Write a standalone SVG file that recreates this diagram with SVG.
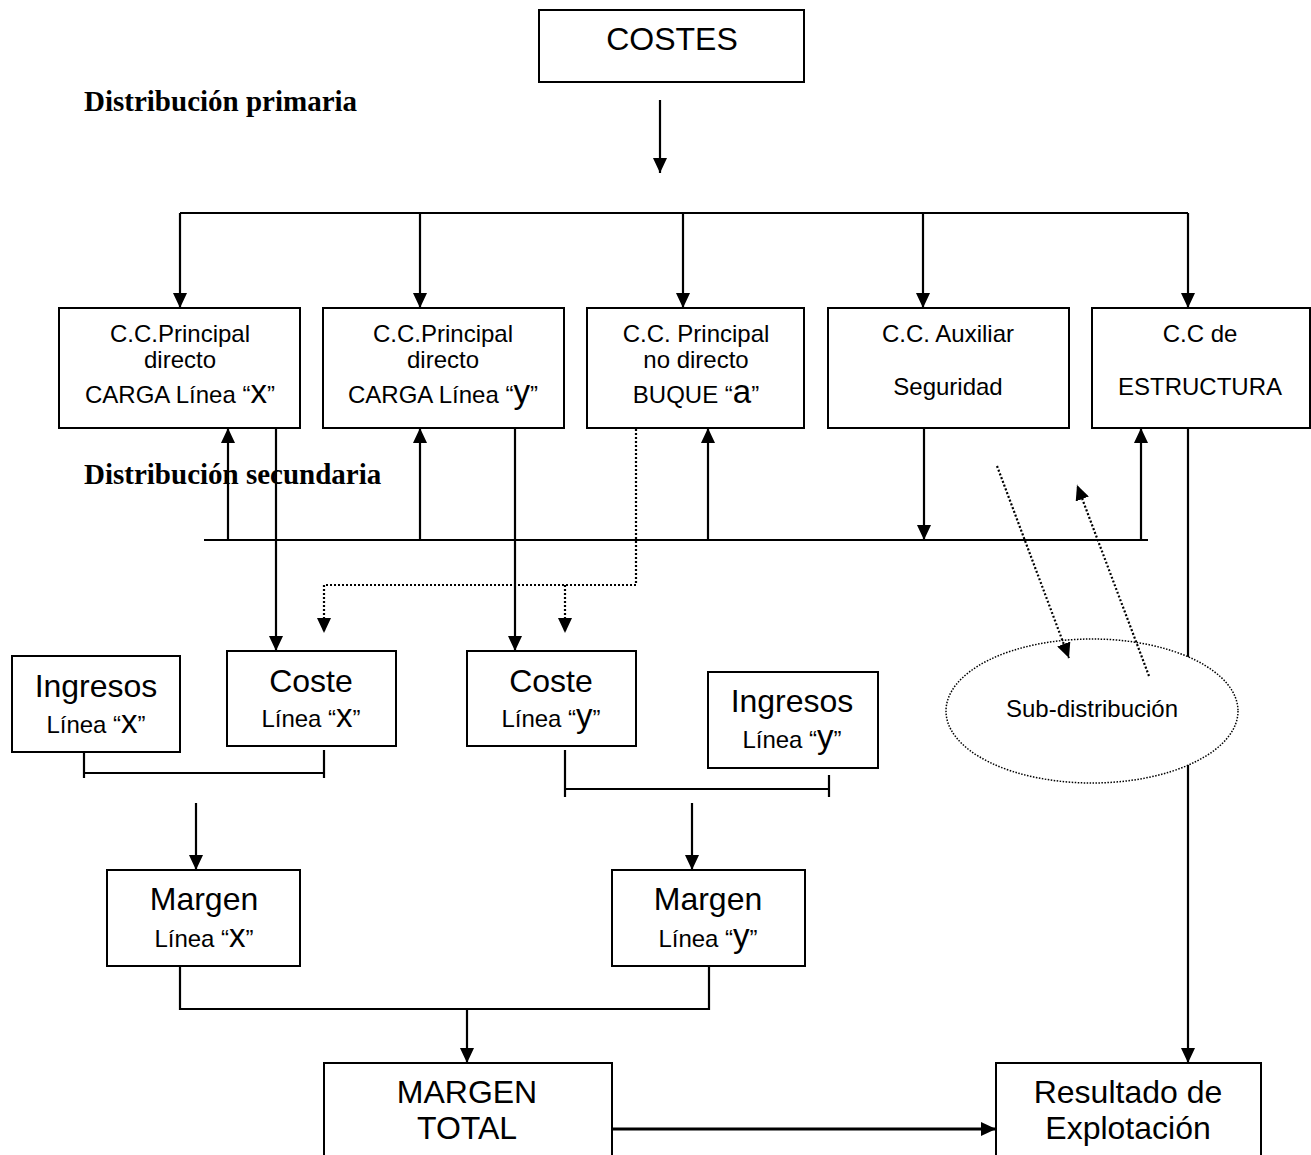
<svg xmlns="http://www.w3.org/2000/svg" width="1311" height="1155" viewBox="0 0 1311 1155">
<style>
.box{fill:#fff;stroke:#000;stroke-width:2}
.t{font-family:"Liberation Sans",Arial,sans-serif;fill:#000;text-anchor:middle}
.s24{font-size:24px}
.s32{font-size:32px}
.big{font-size:33px}
.hd{font-family:"Liberation Serif","Times New Roman",serif;font-weight:bold;font-size:29px;fill:#000}
.c{fill:none;stroke:#000;stroke-width:2.2}
.d{fill:none;stroke:#000;stroke-width:2.2;stroke-dasharray:2 2}
.ar{marker-end:url(#ah)}
</style>
<defs>
<marker id="ah" viewBox="0 0 15 14" refX="15" refY="7" markerWidth="15" markerHeight="14" markerUnits="userSpaceOnUse" orient="auto"><path d="M0,0 L15,7 L0,14 z" fill="#000"/></marker>
</defs>
<rect width="1311" height="1155" fill="#fff"/>
<text class="hd" x="84" y="111">Distribución primaria</text>

<g id="costes"><rect class="box" x="539" y="10" width="265" height="72"/><text class="t s32" x="672" y="50">COSTES</text></g>

<g id="connectors">
<path class="c ar" d="M660,100 V173"/>
<path class="c" d="M180,213 H1188"/>
<path class="c ar" d="M180,213 V308"/>
<path class="c ar" d="M420,213 V308"/>
<path class="c ar" d="M683,213 V308"/>
<path class="c ar" d="M923,213 V308"/>
<path class="c ar" d="M1188,213 V308"/>
<path class="c" d="M204,540 H1148"/>
<path class="c ar" d="M228,540 V428"/>
<path class="c ar" d="M420,540 V428"/>
<path class="c ar" d="M708,540 V428"/>
<path class="c ar" d="M1141,540 V428"/>
<path class="c ar" d="M924,421 V540"/>
<path class="c ar" d="M276,421 V651"/>
<path class="c ar" d="M515,421 V651"/>
<path class="d ar" d="M636,421 V585 H324 V633"/>
<path class="d ar" d="M565,585 V633"/>
<path class="c ar" d="M1188,421 V1063"/>
<path class="c" d="M84,750 V778 M84,773 H324 M324,750 V778"/>
<path class="c" d="M565,750 V797 M565,789 H829 M829,775 V797"/>
<path class="c ar" d="M196,803 V870"/>
<path class="c ar" d="M692,803 V870"/>
<path class="c" d="M180,962 V1009 H709 V962"/>
<path class="c ar" d="M467,1009 V1063"/>
<path class="c ar" style="stroke-width:2.8" d="M612,1129 H996"/>
</g>

<g id="cc1"><rect class="box" x="59" y="308" width="241" height="120"/>
<text class="t s24" x="180" y="342">C.C.Principal</text>
<text class="t s24" x="180" y="368">directo</text>
<text class="t s24" x="180" y="403">CARGA Línea “<tspan class="big">x</tspan>”</text></g>
<g id="cc2"><rect class="box" x="323" y="308" width="241" height="120"/>
<text class="t s24" x="443" y="342">C.C.Principal</text>
<text class="t s24" x="443" y="368">directo</text>
<text class="t s24" x="443" y="403">CARGA Línea “<tspan class="big">y</tspan>”</text></g>
<g id="cc3"><rect class="box" x="587" y="308" width="217" height="120"/>
<text class="t s24" x="696" y="342">C.C. Principal</text>
<text class="t s24" x="696" y="368">no directo</text>
<text class="t s24" x="696" y="403">BUQUE “<tspan class="big">a</tspan>”</text></g>
<g id="cc4"><rect class="box" x="828" y="308" width="241" height="120"/>
<text class="t s24" x="948" y="342">C.C. Auxiliar</text>
<text class="t s24" x="948" y="395">Seguridad</text></g>
<g id="cc5"><rect class="box" x="1092" y="308" width="218" height="120"/>
<text class="t s24" x="1200" y="342">C.C de</text>
<text class="t s24" x="1200" y="395">ESTRUCTURA</text></g>

<text class="hd" x="84" y="484">Distribución secundaria</text>

<g id="subdist"><ellipse cx="1092" cy="711" rx="146" ry="72" fill="#fff" stroke="#000" stroke-width="1.5" stroke-dasharray="1.5 1.5"/>
<text class="t s24" x="1092" y="717">Sub-distribución</text></g>
<g id="diag">
<path class="d ar" d="M997,466 L1069,658"/>
<path class="d ar" d="M1149,676 L1077,485"/>
</g>

<g id="ingx"><rect class="box" x="12" y="656" width="168" height="96"/>
<text class="t s32" x="96" y="697">Ingresos</text>
<text class="t s24" x="96" y="733">Línea “<tspan class="big">x</tspan>”</text></g>
<g id="costex"><rect class="box" x="227" y="651" width="169" height="95"/>
<text class="t s32" x="311" y="692">Coste</text>
<text class="t s24" x="311" y="727">Línea “<tspan class="big">x</tspan>”</text></g>
<g id="costey"><rect class="box" x="467" y="651" width="169" height="95"/>
<text class="t s32" x="551" y="692">Coste</text>
<text class="t s24" x="551" y="727">Línea “<tspan class="big">y</tspan>”</text></g>
<g id="ingy"><rect class="box" x="708" y="672" width="170" height="96"/>
<text class="t s32" x="792" y="712">Ingresos</text>
<text class="t s24" x="792" y="748">Línea “<tspan class="big">y</tspan>”</text></g>

<g id="margenx"><rect class="box" x="107" y="870" width="193" height="96"/>
<text class="t s32" x="204" y="910">Margen</text>
<text class="t s24" x="204" y="947">Línea “<tspan class="big">x</tspan>”</text></g>
<g id="margeny"><rect class="box" x="612" y="870" width="193" height="96"/>
<text class="t s32" x="708" y="910">Margen</text>
<text class="t s24" x="708" y="947">Línea “<tspan class="big">y</tspan>”</text></g>

<g id="margentotal"><rect class="box" x="324" y="1063" width="288" height="110"/>
<text class="t s32" x="467" y="1103">MARGEN</text>
<text class="t s32" x="467" y="1139">TOTAL</text></g>
<g id="resultado"><rect class="box" x="996" y="1063" width="265" height="110"/>
<text class="t s32" x="1128" y="1103">Resultado de</text>
<text class="t s32" x="1128" y="1139">Explotación</text></g>
</svg>
